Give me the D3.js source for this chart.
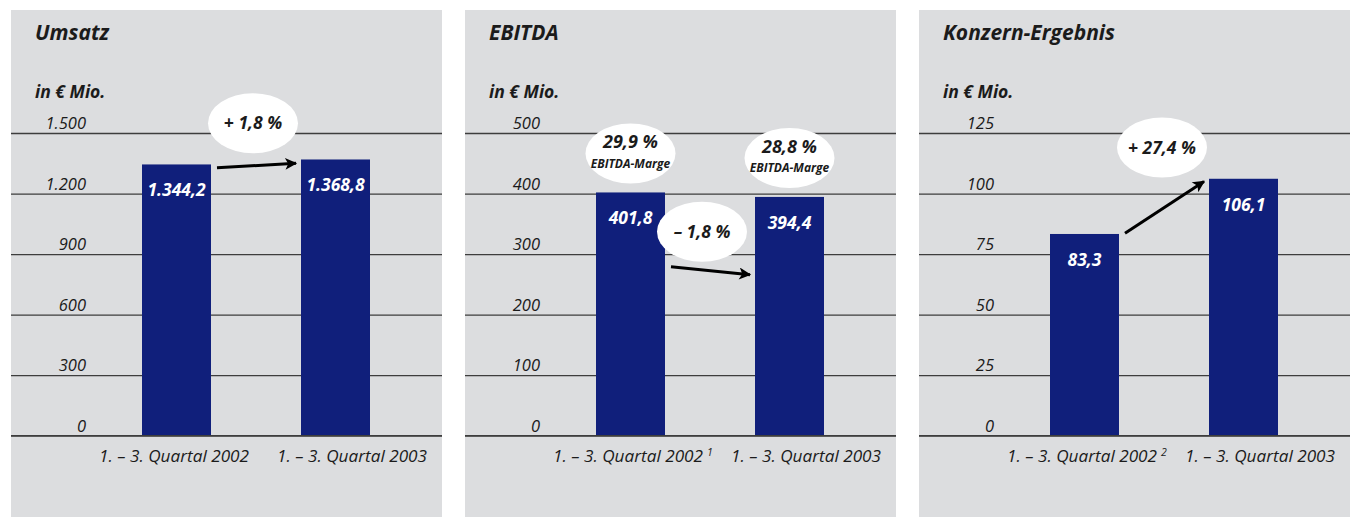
<!DOCTYPE html>
<html>
<head>
<meta charset="utf-8">
<script src="https://cdn.jsdelivr.net/npm/d3@7"></script>
<style>
  body { margin: 0; background: #fff; }
  svg { display: block; font-family: "Open Sans", sans-serif; }
</style>
</head>
<body>
<div id="chart"></div>
<script>
// DATA
const panelTitles = ["Umsatz", "EBITDA", "Konzern-Ergebnis"]
const unitLabel = "in € Mio."
const categories = ["1. – 3. Quartal 2002", "1. – 3. Quartal 2003"]
const footnotes = ["", "1", "2"]
const umsatzValues = [1344.2, 1368.8]
const ebitdaValues = [401.8, 394.4]
const ergebnisValues = [83.3, 106.1]
const umsatzTicks = [0, 300, 600, 900, 1200, 1500]
const ebitdaTicks = [0, 100, 200, 300, 400, 500]
const ergebnisTicks = [0, 25, 50, 75, 100, 125]
const changeLabels = ["+ 1,8 %", "– 1,8 %", "+ 27,4 %"]
const marginLabels = ["29,9 %", "28,8 %"]
const marginCaption = "EBITDA-Marge"

const de = d3.formatLocale({decimal: ",", thousands: ".", grouping: [3], currency: ["", " €"]})
const tickFormat = de.format(",d")
const valueFormat = de.format(",.1f")

// DIMENSIONS
const dimensions = {
    width: 1356,
    height: 517,
    panelLeft: 11,
    panelStep: 454,
    panelWidth: 431,
    panelTop: 10,
    plotTop: 133,
    plotBottom: 435.7,
    barWidth: 69
}

const colors = {
    panel: "#dcdddf",
    bar: "#101f7b",
    grid: "#3d3d3d",
    text: "#1b1b1b"
}

// per panel: values, ticks, where the change bubble and arrow go (in value units)
const panels = [
    {values: umsatzValues, ticks: umsatzTicks, bubble: {dx: -3, v: 1548}, arrow: [1328, 1350]},
    {values: ebitdaValues, ticks: ebitdaTicks, bubble: {dx: -8, v: 337}, arrow: [279, 266]},
    {values: ergebnisValues, ticks: ergebnisTicks, bubble: {dx: -2, v: 119}, arrow: [83.6, 105]}
]

const wrapper = d3.select("#chart")
    .append("svg")
    .attr("width", dimensions.width)
    .attr("height", dimensions.height)

const defs = wrapper.append("defs")
defs.append("marker")
    .attr("id", "arrowhead")
    .attr("viewBox", "0 0 10 10")
    .attr("refX", 9)
    .attr("refY", 5)
    .attr("markerUnits", "userSpaceOnUse")
    .attr("markerWidth", 16)
    .attr("markerHeight", 12)
    .attr("orient", "auto")
  .append("path")
    .attr("d", "M0,0 L10,5 L0,10 L2.5,5 Z")
    .attr("fill", "#000")

panels.forEach((p, i) => {
    const x0 = dimensions.panelLeft + i * dimensions.panelStep
    const g = wrapper.append("g")
        .attr("transform", `translate(${x0},0)`)

    g.append("rect")
        .attr("x", 0)
        .attr("y", dimensions.panelTop)
        .attr("width", dimensions.panelWidth)
        .attr("height", dimensions.height - dimensions.panelTop)
        .attr("fill", colors.panel)

    // SCALES
    const yScale = d3.scaleLinear()
        .domain([0, d3.max(p.ticks)])
        .range([dimensions.plotBottom, dimensions.plotTop])

    const xScale = d3.scalePoint()
        .domain(categories)
        .range([165.5, 324.5])

    const labelScale = d3.scalePoint()
        .domain(categories)
        .range([88, 266])

    // titles
    g.append("text")
        .attr("x", 24)
        .attr("y", 40)
        .attr("fill", colors.text)
        .style("font-size", "21px")
        .style("font-weight", "bold")
        .style("font-style", "italic")
        .text(panelTitles[i])

    g.append("text")
        .attr("x", 24)
        .attr("y", 98)
        .attr("fill", colors.text)
        .style("font-size", "17.5px")
        .style("font-weight", "bold")
        .style("font-style", "italic")
        .text(unitLabel)

    // gridlines + tick labels
    const yAxisGenerator = d3.axisLeft(yScale)
        .tickValues(p.ticks)
        .tickFormat(tickFormat)
        .tickSize(dimensions.panelWidth)
        .tickPadding(0)

    const yAxis = g.append("g")
        .attr("transform", `translate(${dimensions.panelWidth},0)`)
        .call(yAxisGenerator)
    yAxis.select(".domain").remove()
    yAxis.selectAll(".tick line")
        .attr("stroke", colors.grid)
        .attr("stroke-width", 1.3)
    yAxis.selectAll(".tick text")
        .attr("x", 75 - dimensions.panelWidth)
        .attr("dy", -4.5)
        .attr("fill", colors.text)
        .style("font-size", "16.5px")
        .style("font-style", "italic")
        .style("font-family", "'Open Sans', sans-serif")
        .attr("text-anchor", "end")

    // bars
    g.selectAll("rect.bar")
        .data(p.values)
        .join("rect")
        .attr("class", "bar")
        .attr("x", (d, j) => xScale(categories[j]) - dimensions.barWidth / 2)
        .attr("y", d => yScale(d))
        .attr("width", dimensions.barWidth)
        .attr("height", d => yScale(0) - yScale(d))
        .attr("fill", colors.bar)

    // baseline on top of bars
    g.append("line")
        .attr("x1", 0)
        .attr("x2", dimensions.panelWidth)
        .attr("y1", yScale(0))
        .attr("y2", yScale(0))
        .attr("stroke", colors.grid)
        .attr("stroke-width", 1.3)

    g.selectAll("text.value")
        .data(p.values)
        .join("text")
        .attr("class", "value")
        .attr("x", (d, j) => xScale(categories[j]))
        .attr("y", d => yScale(d) + 32)
        .attr("text-anchor", "middle")
        .attr("fill", "#fff")
        .style("font-size", "17.5px")
        .style("font-weight", "bold")
        .style("font-style", "italic")
        .text(d => valueFormat(d))

    // category labels
    const cat = g.selectAll("text.cat")
        .data(categories)
        .join("text")
        .attr("class", "cat")
        .attr("x", d => labelScale(d))
        .attr("y", 461.5)
        .attr("fill", colors.text)
        .style("font-size", "17.2px")
        .style("font-style", "italic")
    cat.append("tspan").text(d => d)
    cat.filter((d, j) => j === 0 && footnotes[i])
        .append("tspan")
        .attr("dx", 4)
        .attr("dy", -6)
        .style("font-size", "10.5px")
        .text(footnotes[i])

    // EBITDA margin bubbles
    if (i === 1) {
        const mg = g.selectAll("g.margin")
            .data(p.values)
            .join("g")
            .attr("class", "margin")
            .attr("transform", (d, j) => `translate(${xScale(categories[j])},${yScale(d) - 39})`)
        mg.append("ellipse")
            .attr("rx", 45)
            .attr("ry", 30)
            .attr("fill", "#fff")
        mg.append("text")
            .attr("y", -5)
            .attr("text-anchor", "middle")
            .attr("fill", colors.text)
            .style("font-size", "18px")
            .style("font-weight", "bold")
            .style("font-style", "italic")
            .text((d, j) => marginLabels[j])
        mg.append("text")
            .attr("y", 14.5)
            .attr("text-anchor", "middle")
            .attr("fill", colors.text)
            .style("font-size", "12px")
            .style("font-weight", "bold")
            .style("font-style", "italic")
            .text(marginCaption)
    }

    // change bubble
    const midX = (xScale(categories[0]) + xScale(categories[1])) / 2 + p.bubble.dx
    const bubble = g.append("g")
        .attr("transform", `translate(${midX},${yScale(p.bubble.v)})`)
    bubble.append("ellipse")
        .attr("rx", 45)
        .attr("ry", 30)
        .attr("fill", "#fff")
    bubble.append("text")
        .attr("y", 6)
        .attr("text-anchor", "middle")
        .attr("fill", colors.text)
        .style("font-size", "17.5px")
        .style("font-weight", "bold")
        .style("font-style", "italic")
        .text(changeLabels[i])

    // arrow
    g.append("line")
        .attr("x1", xScale(categories[0]) + dimensions.barWidth / 2 + 6)
        .attr("y1", yScale(p.arrow[0]))
        .attr("x2", xScale(categories[1]) - dimensions.barWidth / 2 - 5)
        .attr("y2", yScale(p.arrow[1]))
        .attr("stroke", "#000")
        .attr("stroke-width", 3)
        .attr("marker-end", "url(#arrowhead)")
})
</script>
</body>
</html>
